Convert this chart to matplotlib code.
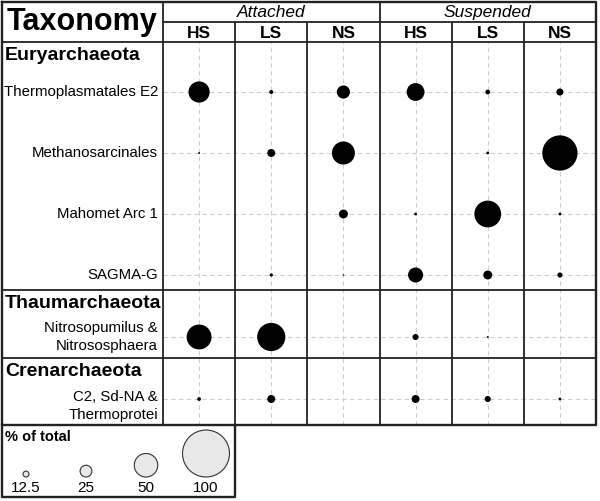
import numpy as np
import matplotlib.pyplot as plt
from matplotlib.transforms import blended_transform_factory

plt.rcParams['font.family'] = ['Liberation Sans', 'DejaVu Sans']

groups = ['Euryarchaeota', 'Thaumarchaeota', 'Crenarchaeota']
taxa = ['Thermoplasmatales E2', 'Methanosarcinales', 'Mahomet Arc 1', 'SAGMA-G',
        'Nitrosopumilus &\nNitrososphaera', 'C2, Sd-NA &\nThermoprotei']
taxon_group = [0, 0, 0, 0, 1, 2]
fractions = ['Attached', 'Suspended']
samples = ['HS', 'LS', 'NS']

# % of total; columns = Attached HS, LS, NS, Suspended HS, LS, NS
thermoplasmatales = [45, 8.5, 28, 38, 10, 15]
methanosarcinales = [4, 17, 49, 0, 6, 75]
mahomet = [0, 0, 19, 6, 57, 6]
sagma = [0, 7, 3, 32, 19, 11]
nitroso = [53, 60, 0, 13, 4, 0]
crenarch = [8, 17, 0, 17, 13, 6]
legend_vals = [12.5, 25, 50, 100]

values = np.array([thermoplasmatales, methanosarcinales, mahomet, sagma, nitroso, crenarch])

# layout (pixels)
W, H = 600, 501
left_x, grid_top, grid_bot, right_x = 163, 42, 425, 596
col_w = (right_x - left_x) / 6
head = [50, 47, 41]
step = 61
tail = [15, 21, 26]
label_shift = [0, 0, 0, 0, 0, 7]  # the last label sits a bit below its row

row_y = []
group_top = []
y = 0
for g in range(len(groups)):
    group_top.append(y)
    n = taxon_group.count(g)
    for k in range(n):
        row_y.append(y + head[g] + k * step)
    y = row_y[-1] + tail[g]
group_top.append(y)

PX = 0.47  # marker diameter px per % unit
def size(v):
    return (np.asarray(v) * PX * 72 / 100) ** 2

fig = plt.figure(figsize=(6, 5.01), dpi=100)

ax = fig.add_axes([left_x / W, (H - grid_bot) / H, (right_x - left_x) / W, (grid_bot - grid_top) / H])
ax.set_xlim(-0.5, 5.5)
ax.set_ylim(grid_bot - grid_top, 0)
ax.set_facecolor('none')
for s in ax.spines.values():
    s.set_visible(False)
ax.set_xticks(range(6))
ax.set_yticks(row_y)
ax.tick_params(length=0, labelleft=False, labelbottom=False)
ax.grid(True, ls=(0, (4, 3)), color='#cfcfcf', lw=0.8)
ax.set_axisbelow(True)

xx, yy = np.meshgrid(range(6), row_y)
mask = values > 0
ax.scatter(xx[mask], yy[mask], s=size(values[mask]), color='black', lw=0, zorder=3)

tr = blended_transform_factory(ax.transAxes, ax.transData)
lab_x = (158 - left_x) / (right_x - left_x)
grp_x = (5 - left_x) / (right_x - left_x)
for name, yv, sh in zip(taxa, row_y, label_shift):
    ax.text(lab_x, yv + sh, name, transform=tr, ha='right', va='center', fontsize=10.8,
            linespacing=1.35)
for g, name in enumerate(groups):
    ax.text(grp_x, group_top[g] + 13, name, transform=tr, ha='left', va='center',
            fontsize=14, fontweight='bold')

# table frame and header
fr = fig.add_axes([0, 0, 1, 1])
fr.set_xlim(0, W)
fr.set_ylim(H, 0)
fr.axis('off')
lc = '#222222'
fr.plot([2, 596, 596, 2, 2], [2, 2, grid_bot, grid_bot, 2], color=lc, lw=1.7)
fr.plot([2, 2, 235, 235], [grid_bot, 497, 497, grid_bot], color=lc, lw=1.7)
fr.hlines(22, left_x, right_x, color=lc, lw=1.3)
fr.hlines(grid_top, 2, right_x, color=lc, lw=1.3)
for gt in group_top[1:-1]:
    fr.hlines(grid_top + gt, 2, right_x, color=lc, lw=1.3)
fr.vlines(left_x, 2, grid_bot, color=lc, lw=1.3)
for i in range(1, 6):
    xv = left_x + i * col_w
    fr.vlines(xv, 2 if i == 3 else 22, grid_bot, color=lc, lw=1.3)

fr.text(82, 22, 'Taxonomy', ha='center', va='center', fontsize=22, fontweight='bold')
for f, name in enumerate(fractions):
    fr.text(left_x + (f * 3 + 1.5) * col_w, 12.5, name, ha='center', va='center',
            fontsize=12.5, style='italic')
    for j, smp in enumerate(samples):
        fr.text(left_x + (f * 3 + j + 0.5) * col_w, 33, smp, ha='center', va='center',
                fontsize=12.5, fontweight='bold')

# size legend
fr.text(5, 437, '% of total', ha='left', va='center', fontsize=10.5, fontweight='bold')
lx = 26 + 60 * np.arange(len(legend_vals))
ld = np.array(legend_vals) * PX
fr.scatter(lx, 477 - ld / 2, s=size(legend_vals), facecolor='#e8e8e8', edgecolor='#333333',
           lw=0.8, zorder=3)
for xv, v in zip(lx, legend_vals):
    fr.text(xv, 488, f'{v:g}', ha='center', va='center', fontsize=11)

fig.savefig('out.png', dpi=100)
